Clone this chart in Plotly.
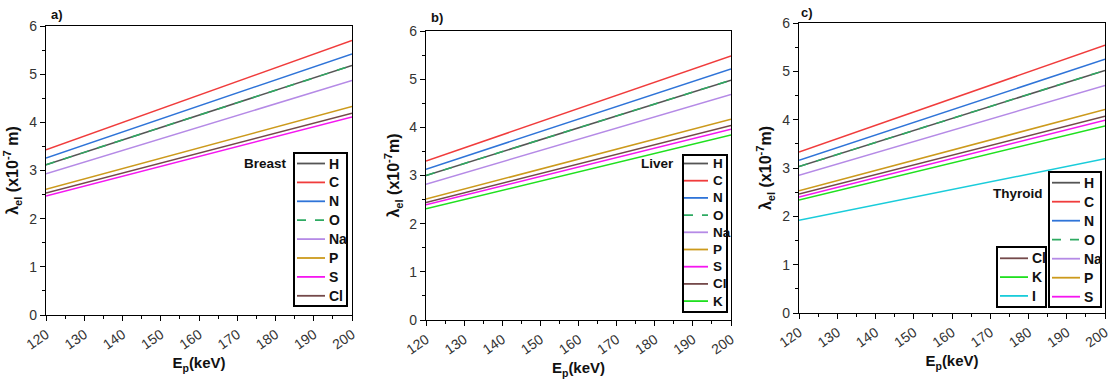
import plotly.graph_objects as go

W, H = 1112, 383
energy = [120, 200]

# panel a) Breast
breast_names = ["H", "C", "N", "O", "Na", "P", "S", "Cl"]
breast_vals = {
    "H": [3.12, 5.18], "C": [3.43, 5.70], "N": [3.26, 5.42], "O": [3.12, 5.18],
    "Na": [2.93, 4.87], "P": [2.61, 4.33], "S": [2.47, 4.11], "Cl": [2.53, 4.19],
}
# panel b) Liver
liver_names = ["H", "C", "N", "O", "Na", "P", "S", "Cl", "K"]
liver_vals = {
    "H": [3.00, 4.98], "C": [3.30, 5.48], "N": [3.13, 5.21], "O": [3.00, 4.98],
    "Na": [2.82, 4.68], "P": [2.51, 4.17], "S": [2.39, 3.96], "Cl": [2.44, 4.04],
    "K": [2.31, 3.84],
}
# panel c) Thyroid
thyroid_names = ["H", "C", "N", "O", "Na", "P", "S", "Cl", "K", "I"]
thyroid_vals = {
    "H": [3.03, 5.02], "C": [3.33, 5.54], "N": [3.16, 5.25], "O": [3.03, 5.02],
    "Na": [2.85, 4.71], "P": [2.53, 4.21], "S": [2.40, 3.99], "Cl": [2.46, 4.07],
    "K": [2.34, 3.87], "I": [1.92, 3.19],
}
tissue_labels = ["Breast", "Liver", "Thyroid"]
panel_labels = ["a)", "b)", "c)"]

colors = {
    "H": "#555555", "C": "#F03C3C", "N": "#2F74D8", "O": "#2EAA62",
    "Na": "#B58AE6", "P": "#CC9A1C", "S": "#F516F0", "Cl": "#74494A",
    "K": "#1FE01F", "I": "#19CCDA",
}

FONT = "Liberation Sans, Arial, sans-serif"

fig = go.Figure()


def px_dom_x(a, b):
    return [a / W, b / W]


def px_dom_y(top, bottom):
    return [1 - bottom / H, 1 - top / H]


panels = [
    ("x", "y", breast_names, breast_vals, px_dom_x(46, 352), px_dom_y(26, 315)),
    ("x2", "y2", liver_names, liver_vals, px_dom_x(426, 731), px_dom_y(31, 320)),
    ("x3", "y3", thyroid_names, thyroid_vals, px_dom_x(799, 1105), px_dom_y(23, 313)),
]

for i, (xa, ya, names, vals, dx, dy) in enumerate(panels):
    for n in names:
        fig.add_trace(go.Scatter(
            x=energy, y=vals[n], mode="lines", name=n,
            line=dict(color=colors[n], width=1.5, dash="dash" if n == "O" else "solid"),
            xaxis=xa, yaxis=ya, showlegend=False, hoverinfo="x+y+name",
        ))

ytitles = [
    "<b>λ<sub>el</sub> (x10<sup>-7</sup> m)</b>",
    "<b>λ<sub>el</sub> (x10<sup>-7</sup>m)</b>",
    "<b>λ<sub>el</sub> (x10<sup>-7</sup>m)</b>",
]
ystandoff = [6, 5, 6]

layout = dict(
    width=W, height=H, margin=dict(l=0, r=0, t=0, b=0),
    paper_bgcolor="white", plot_bgcolor="white", showlegend=False,
    font=dict(family=FONT, color="#222222", size=13),
)

for i, (xa, ya, names, vals, dx, dy) in enumerate(panels):
    sx = "" if i == 0 else str(i + 1)
    layout["xaxis" + sx] = dict(
        domain=dx, anchor=ya, range=[120, 200], dtick=10, tick0=120,
        showline=True, linecolor="black", linewidth=1.2, mirror=True,
        ticks="outside", ticklen=5, tickcolor="black", tickangle=-35,
        minor=dict(ticks="outside", dtick=5, ticklen=3, tickcolor="black"),
        showgrid=False, zeroline=False, automargin=False,
        tickfont=dict(size=14, color="#333333"),
        title=dict(text="<b>E<sub>p</sub>(keV)</b>", font=dict(size=15, color="#111111"), standoff=6),
    )
    layout["yaxis" + sx] = dict(
        domain=dy, anchor=xa, range=[0, 6], dtick=1,
        showline=True, linecolor="black", linewidth=1.2, mirror=True,
        ticks="outside", ticklen=5, tickcolor="black",
        minor=dict(ticks="outside", dtick=0.5, ticklen=3, tickcolor="black"),
        showgrid=False, zeroline=False, automargin=False,
        tickfont=dict(size=14, color="#333333"),
        title=dict(text=ytitles[i], font=dict(size=16, color="#111111"), standoff=ystandoff[i]),
    )

fig.update_layout(**layout)

shapes = []
annos = []


def px(xp, yp):
    return xp / W, 1 - yp / H


def add_legend(names, box, line_x0, line_x1, text_x, row0, step, fsize):
    bx0, by0, bx1, by1 = box
    X0, Y0 = px(bx0, by1)
    X1, Y1 = px(bx1, by0)
    shapes.append(dict(type="rect", xref="paper", yref="paper", x0=X0, y0=Y0, x1=X1, y1=Y1,
                       line=dict(color="black", width=2), fillcolor="white", layer="above"))
    for k, n in enumerate(names):
        yy = row0 + k * step
        lx0, ly = px(line_x0, yy)
        lx1, _ = px(line_x1, yy)
        shapes.append(dict(type="line", xref="paper", yref="paper", x0=lx0, x1=lx1, y0=ly, y1=ly,
                           line=dict(color=colors[n], width=1.8,
                                     dash="dash" if n == "O" else "solid"), layer="above"))
        tx, ty = px(text_x, yy)
        annos.append(dict(text="<b>%s</b>" % n, x=tx, y=ty, xref="paper", yref="paper",
                          xanchor="left", yanchor="middle", showarrow=False,
                          font=dict(family=FONT, size=fsize, color="#111111")))


add_legend(breast_names, (294, 153, 347, 306), 297, 325, 327, 163.5, 18.9, 14)
add_legend(liver_names, (683, 155, 727, 312), 684, 708, 711, 163.5, 17.2, 13.5)
add_legend(thyroid_names[:7], (1049, 172, 1101, 307), 1052, 1080, 1082, 182.7, 19.0, 14)
add_legend(thyroid_names[7:], (997, 247, 1046, 307), 1000, 1028, 1030, 258.3, 18.8, 14)

label_pos = [(49, 15), (429, 17), (799, 12)]
for t, (xp, yp) in zip(panel_labels, label_pos):
    ax, ay = px(xp, yp)
    annos.append(dict(text="<b>%s</b>" % t, x=ax, y=ay, xref="paper", yref="paper",
                      xanchor="left", yanchor="middle", showarrow=False,
                      font=dict(family=FONT, size=13, color="#111111")))

tissue_pos = [(289, 163), (676, 164), (1045, 193)]
for t, (xp, yp) in zip(tissue_labels, tissue_pos):
    ax, ay = px(xp, yp)
    annos.append(dict(text="<b>%s</b>" % t, x=ax, y=ay, xref="paper", yref="paper",
                      xanchor="right", yanchor="middle", showarrow=False,
                      font=dict(family=FONT, size=13.5, color="#111111")))

fig.update_layout(shapes=shapes, annotations=annos)

fig.write_html("out.html", config={"displayModeBar": False},
               post_script="document.body.style.margin='0px';")
